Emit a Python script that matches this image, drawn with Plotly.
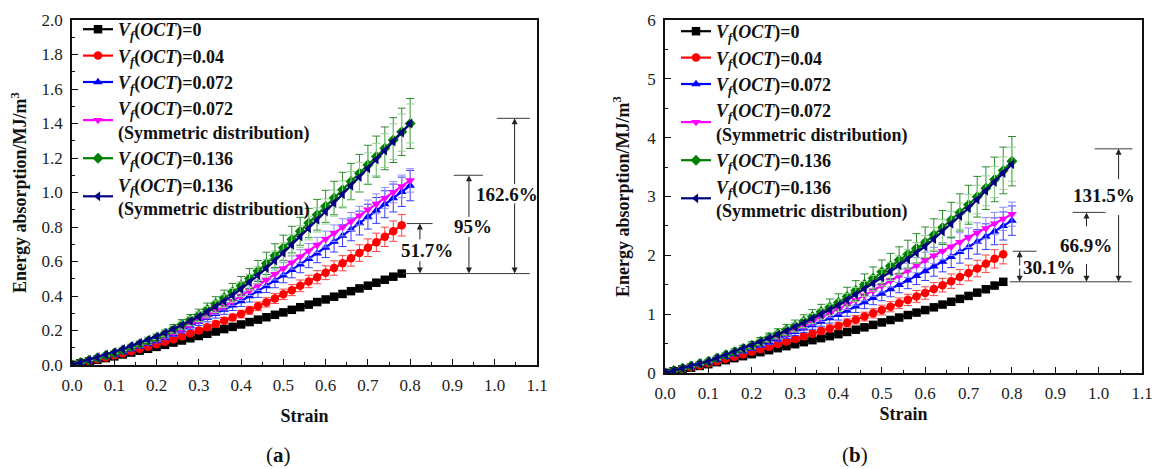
import plotly.graph_objects as go

# ---------------------------------------------------------------------------
# Energy absorption vs. strain for foams with different OCT volume fractions
# (a) and (b): two loading cases, six specimen groups each (mean +/- SD)
# ---------------------------------------------------------------------------

STRAIN_078 = [0.00, 0.02, 0.04, 0.06, 0.08, 0.10, 0.12, 0.14, 0.16, 0.18,
              0.20, 0.22, 0.24, 0.26, 0.28, 0.30, 0.32, 0.34, 0.36, 0.38,
              0.40, 0.42, 0.44, 0.46, 0.48, 0.50, 0.52, 0.54, 0.56, 0.58,
              0.60, 0.62, 0.64, 0.66, 0.68, 0.70, 0.72, 0.74, 0.76, 0.78]
STRAIN_080 = STRAIN_078 + [0.80]

SERIES_NAMES = [
    "<i>V</i><sub><i>f</i></sub>(<i>OCT</i>)=0",
    "<i>V</i><sub><i>f</i></sub>(<i>OCT</i>)=0.04",
    "<i>V</i><sub><i>f</i></sub>(<i>OCT</i>)=0.072",
    "<i>V</i><sub><i>f</i></sub>(<i>OCT</i>)=0.072<br>(Symmetric distribution)",
    "<i>V</i><sub><i>f</i></sub>(<i>OCT</i>)=0.136",
    "<i>V</i><sub><i>f</i></sub>(<i>OCT</i>)=0.136<br>(Symmetric distribution)",
]

# ---- panel (a) -----------------------------------------------------------
A_BLACK = [0.000, 0.010, 0.020, 0.030, 0.040, 0.050, 0.061, 0.072, 0.083, 0.094,
           0.105, 0.117, 0.130, 0.142, 0.155, 0.168, 0.181, 0.194, 0.208, 0.221,
           0.235, 0.249, 0.263, 0.277, 0.291, 0.305, 0.320, 0.335, 0.350, 0.365,
           0.380, 0.396, 0.412, 0.428, 0.444, 0.460, 0.477, 0.494, 0.512, 0.530]
A_BLACK_ERR = [0.000, 0.001, 0.001, 0.002, 0.002, 0.003, 0.003, 0.003, 0.004, 0.004,
               0.004, 0.005, 0.005, 0.005, 0.006, 0.006, 0.006, 0.007, 0.007, 0.007,
               0.008, 0.008, 0.008, 0.009, 0.009, 0.009, 0.010, 0.010, 0.010, 0.011,
               0.011, 0.011, 0.012, 0.012, 0.012, 0.013, 0.013, 0.013, 0.014, 0.014]

A_RED = [0.000, 0.011, 0.022, 0.033, 0.044, 0.055, 0.067, 0.080, 0.093, 0.106,
         0.120, 0.135, 0.150, 0.166, 0.183, 0.200, 0.219, 0.238, 0.257, 0.276,
         0.295, 0.317, 0.340, 0.363, 0.386, 0.410, 0.434, 0.459, 0.484, 0.509,
         0.535, 0.562, 0.590, 0.619, 0.649, 0.680, 0.711, 0.743, 0.776, 0.810]
A_RED_ERR = [0.000, 0.001, 0.002, 0.003, 0.004, 0.004, 0.005, 0.006, 0.007, 0.008,
             0.009, 0.010, 0.011, 0.012, 0.013, 0.015, 0.016, 0.017, 0.019, 0.020,
             0.022, 0.023, 0.025, 0.027, 0.029, 0.030, 0.032, 0.034, 0.036, 0.038,
             0.040, 0.042, 0.044, 0.046, 0.048, 0.051, 0.053, 0.056, 0.059, 0.062]

A_BLUE = [0.000, 0.012, 0.024, 0.036, 0.048, 0.060, 0.075, 0.090, 0.106, 0.123,
          0.140, 0.160, 0.181, 0.203, 0.226, 0.250, 0.273, 0.297, 0.321, 0.345,
          0.370, 0.399, 0.428, 0.458, 0.489, 0.520, 0.551, 0.583, 0.615, 0.647,
          0.680, 0.715, 0.750, 0.786, 0.823, 0.860, 0.896, 0.932, 0.968, 1.004,
          1.040]
A_BLUE_ERR = [0.000, 0.001, 0.002, 0.003, 0.004, 0.005, 0.006, 0.007, 0.008, 0.010,
              0.011, 0.013, 0.015, 0.017, 0.019, 0.021, 0.023, 0.025, 0.027, 0.029,
              0.031, 0.034, 0.036, 0.038, 0.041, 0.043, 0.046, 0.048, 0.051, 0.054,
              0.057, 0.060, 0.063, 0.066, 0.069, 0.072, 0.075, 0.078, 0.081, 0.085,
              0.088]

A_MAGENTA = [0.000, 0.012, 0.024, 0.037, 0.049, 0.062, 0.077, 0.093, 0.110, 0.127,
             0.145, 0.166, 0.188, 0.211, 0.235, 0.260, 0.286, 0.313, 0.341, 0.370,
             0.400, 0.431, 0.462, 0.494, 0.527, 0.560, 0.594, 0.628, 0.662, 0.696,
             0.730, 0.764, 0.798, 0.832, 0.866, 0.900, 0.934, 0.968, 1.002, 1.036,
             1.070]
A_MAGENTA_ERR = [0.000, 0.001, 0.002, 0.003, 0.003, 0.004, 0.005, 0.006, 0.007, 0.008,
                 0.009, 0.010, 0.012, 0.013, 0.015, 0.016, 0.018, 0.020, 0.022, 0.024,
                 0.026, 0.028, 0.030, 0.032, 0.034, 0.036, 0.038, 0.040, 0.042, 0.044,
                 0.046, 0.048, 0.050, 0.052, 0.054, 0.056, 0.058, 0.060, 0.062, 0.065,
                 0.068]

A_GREEN = [0.000, 0.014, 0.028, 0.042, 0.056, 0.070, 0.087, 0.104, 0.122, 0.141,
           0.160, 0.184, 0.209, 0.235, 0.262, 0.290, 0.322, 0.355, 0.389, 0.424,
           0.460, 0.502, 0.545, 0.589, 0.634, 0.680, 0.727, 0.775, 0.823, 0.871,
           0.920, 0.968, 1.016, 1.064, 1.112, 1.160, 1.208, 1.256, 1.304, 1.352,
           1.400]
A_GREEN_ERR = [0.000, 0.002, 0.004, 0.006, 0.007, 0.009, 0.011, 0.013, 0.015, 0.017,
               0.019, 0.022, 0.025, 0.028, 0.031, 0.034, 0.037, 0.041, 0.045, 0.049,
               0.053, 0.057, 0.061, 0.065, 0.069, 0.073, 0.077, 0.081, 0.085, 0.089,
               0.093, 0.097, 0.101, 0.105, 0.109, 0.114, 0.119, 0.124, 0.130, 0.137,
               0.145]

A_NAVY = [0.000, 0.015, 0.030, 0.045, 0.060, 0.075, 0.093, 0.111, 0.129, 0.147,
          0.165, 0.186, 0.208, 0.231, 0.255, 0.280, 0.308, 0.338, 0.370, 0.404,
          0.440, 0.480, 0.520, 0.561, 0.605, 0.650, 0.697, 0.744, 0.792, 0.841,
          0.890, 0.939, 0.989, 1.039, 1.089, 1.140, 1.191, 1.243, 1.295, 1.347,
          1.400]
A_NAVY_ERR = [0.000, 0.002, 0.003, 0.005, 0.006, 0.008, 0.009, 0.011, 0.013, 0.015,
              0.017, 0.019, 0.021, 0.023, 0.026, 0.028, 0.031, 0.034, 0.037, 0.040,
              0.043, 0.046, 0.049, 0.052, 0.055, 0.058, 0.061, 0.064, 0.067, 0.070,
              0.073, 0.076, 0.079, 0.082, 0.086, 0.090, 0.094, 0.098, 0.103, 0.108,
              0.113]

# ---- panel (b) -----------------------------------------------------------
B_BLACK = [0.000, 0.030, 0.060, 0.090, 0.120, 0.150, 0.184, 0.218, 0.252, 0.286,
           0.320, 0.354, 0.388, 0.422, 0.456, 0.490, 0.524, 0.558, 0.592, 0.626,
           0.660, 0.698, 0.736, 0.776, 0.818, 0.860, 0.901, 0.943, 0.985, 1.027,
           1.070, 1.116, 1.163, 1.211, 1.260, 1.310, 1.366, 1.424, 1.486, 1.550]
B_BLACK_ERR = [0.000, 0.003, 0.004, 0.006, 0.007, 0.009, 0.010, 0.011, 0.012, 0.013,
               0.014, 0.015, 0.016, 0.017, 0.018, 0.019, 0.020, 0.021, 0.022, 0.023,
               0.024, 0.025, 0.026, 0.027, 0.028, 0.029, 0.030, 0.031, 0.032, 0.033,
               0.034, 0.035, 0.036, 0.037, 0.038, 0.039, 0.040, 0.041, 0.042, 0.043]

B_RED = [0.000, 0.032, 0.064, 0.096, 0.128, 0.160, 0.198, 0.238, 0.278, 0.319,
         0.360, 0.403, 0.447, 0.491, 0.535, 0.580, 0.624, 0.668, 0.712, 0.756,
         0.800, 0.852, 0.905, 0.959, 1.014, 1.070, 1.127, 1.185, 1.243, 1.302,
         1.360, 1.426, 1.493, 1.561, 1.630, 1.700, 1.776, 1.857, 1.940, 2.020]
B_RED_ERR = [0.000, 0.003, 0.006, 0.009, 0.012, 0.014, 0.017, 0.020, 0.023, 0.026,
             0.029, 0.032, 0.035, 0.038, 0.041, 0.045, 0.048, 0.052, 0.055, 0.059,
             0.063, 0.067, 0.071, 0.075, 0.079, 0.083, 0.087, 0.091, 0.096, 0.101,
             0.106, 0.111, 0.116, 0.122, 0.128, 0.134, 0.141, 0.148, 0.156, 0.165]

B_BLUE = [0.000, 0.036, 0.072, 0.108, 0.144, 0.180, 0.226, 0.273, 0.321, 0.370,
          0.420, 0.474, 0.529, 0.584, 0.642, 0.700, 0.757, 0.815, 0.873, 0.931,
          0.990, 1.060, 1.131, 1.203, 1.276, 1.350, 1.425, 1.500, 1.576, 1.653,
          1.730, 1.811, 1.893, 1.975, 2.057, 2.140, 2.229, 2.318, 2.408, 2.499,
          2.590]
B_BLUE_ERR = [0.000, 0.004, 0.007, 0.011, 0.014, 0.018, 0.021, 0.025, 0.029, 0.033,
              0.037, 0.041, 0.046, 0.051, 0.056, 0.061, 0.066, 0.072, 0.078, 0.084,
              0.090, 0.096, 0.102, 0.108, 0.115, 0.122, 0.129, 0.136, 0.143, 0.150,
              0.158, 0.166, 0.174, 0.182, 0.190, 0.199, 0.208, 0.218, 0.228, 0.239,
              0.250]

B_MAGENTA = [0.000, 0.038, 0.076, 0.114, 0.152, 0.190, 0.239, 0.289, 0.339, 0.389,
             0.440, 0.499, 0.559, 0.619, 0.679, 0.740, 0.807, 0.875, 0.943, 1.011,
             1.080, 1.159, 1.239, 1.319, 1.399, 1.480, 1.568, 1.656, 1.744, 1.832,
             1.920, 1.996, 2.072, 2.148, 2.224, 2.300, 2.380, 2.460, 2.540, 2.620,
             2.700]
B_MAGENTA_ERR = [0.000, 0.003, 0.006, 0.009, 0.012, 0.015, 0.018, 0.021, 0.024, 0.028,
                 0.032, 0.036, 0.040, 0.044, 0.048, 0.052, 0.056, 0.061, 0.066, 0.071,
                 0.076, 0.081, 0.086, 0.091, 0.097, 0.103, 0.109, 0.115, 0.121, 0.127,
                 0.133, 0.139, 0.145, 0.152, 0.159, 0.166, 0.173, 0.181, 0.189, 0.197,
                 0.205]

B_GREEN = [0.000, 0.040, 0.080, 0.120, 0.160, 0.200, 0.254, 0.308, 0.362, 0.416,
           0.470, 0.536, 0.602, 0.668, 0.734, 0.800, 0.880, 0.960, 1.040, 1.120,
           1.200, 1.300, 1.402, 1.506, 1.612, 1.720, 1.820, 1.920, 2.020, 2.120,
           2.220, 2.346, 2.473, 2.600, 2.729, 2.860, 2.996, 3.142, 3.290, 3.443,
           3.600]
B_GREEN_ERR = [0.000, 0.006, 0.012, 0.018, 0.023, 0.029, 0.035, 0.041, 0.047, 0.054,
               0.061, 0.068, 0.076, 0.084, 0.092, 0.100, 0.109, 0.118, 0.127, 0.137,
               0.147, 0.157, 0.168, 0.179, 0.190, 0.201, 0.213, 0.225, 0.237, 0.249,
               0.262, 0.275, 0.288, 0.302, 0.316, 0.331, 0.346, 0.362, 0.379, 0.397,
               0.420]

B_NAVY = [0.000, 0.040, 0.080, 0.120, 0.160, 0.200, 0.254, 0.308, 0.362, 0.416,
          0.470, 0.530, 0.591, 0.653, 0.716, 0.780, 0.852, 0.925, 0.999, 1.074,
          1.150, 1.241, 1.334, 1.428, 1.524, 1.620, 1.724, 1.829, 1.935, 2.042,
          2.150, 2.277, 2.405, 2.535, 2.667, 2.800, 2.948, 3.097, 3.247, 3.398,
          3.550]
B_NAVY_ERR = [0.000, 0.004, 0.008, 0.012, 0.016, 0.020, 0.024, 0.028, 0.033, 0.038,
              0.043, 0.048, 0.054, 0.060, 0.066, 0.072, 0.078, 0.085, 0.092, 0.099,
              0.106, 0.113, 0.120, 0.128, 0.136, 0.144, 0.152, 0.160, 0.168, 0.177,
              0.186, 0.195, 0.204, 0.213, 0.223, 0.233, 0.243, 0.254, 0.265, 0.277,
              0.290]

# ---- percentage brackets:
# (label, top level, arrow x, top-line x span, label position, arrow tails)
A_BRACKETS = [
    ("51.7%", 0.82, 0.823, (0.792, 0.853), (0.839, 0.665), (0.72, 0.61)),
    ("95%", 1.10, 0.939, (0.903, 0.972), (0.948, 0.80), (0.85, 0.75)),
    ("162.6%", 1.43, 1.047, (1.005, 1.083), (1.028, 0.99), (1.04, 0.945)),
]
A_BASE_SPAN = (0.782, 1.083)

B_BRACKETS = [
    ("30.1%", 2.07, 0.818, (0.802, 0.857), (0.885, 1.80), (1.80, 1.80)),
    ("66.9%", 2.73, 0.972, (0.940, 1.016), (0.972, 2.17), (2.47, 1.88)),
    ("131.5%", 3.81, 1.046, (0.991, 1.078), (1.012, 3.02), (3.27, 2.71)),
]
B_BASE_SPAN = (0.795, 1.076)

# ---- styling --------------------------------------------------------------
SERIF = "Liberation Serif"
LINE_COLORS = ["#000000", "#ff0000", "#0000ff", "#ff00ff", "#008000", "#000080"]
ERR_COLORS = ["#000000", "#ff4040", "#3a3aff", "#8c8cff", "#2e8b2e", "#8fd18f"]
SYMBOLS = ["square", "circle", "triangle-up", "triangle-down", "diamond", "triangle-left"]

W, H = 1158, 469

fig = go.Figure()


def add_panel(series, xaxis, yaxis, legend):
    for i, (xs, ys, es) in enumerate(series):
        fig.add_trace(go.Scatter(
            x=xs, y=ys, name=SERIES_NAMES[i], mode="lines+markers",
            xaxis=xaxis, yaxis=yaxis, legend=legend,
            line=dict(color=LINE_COLORS[i], width=2.2),
            marker=dict(symbol=SYMBOLS[i], size=8.5, color=LINE_COLORS[i]),
            error_y=dict(type="data", array=es, visible=True,
                         color=ERR_COLORS[i], thickness=1, width=4),
        ))


add_panel([
    (STRAIN_078, A_BLACK, A_BLACK_ERR),
    (STRAIN_078, A_RED, A_RED_ERR),
    (STRAIN_080, A_BLUE, A_BLUE_ERR),
    (STRAIN_080, A_MAGENTA, A_MAGENTA_ERR),
    (STRAIN_080, A_GREEN, A_GREEN_ERR),
    (STRAIN_080, A_NAVY, A_NAVY_ERR),
], "x", "y", "legend")

add_panel([
    (STRAIN_078, B_BLACK, B_BLACK_ERR),
    (STRAIN_078, B_RED, B_RED_ERR),
    (STRAIN_080, B_BLUE, B_BLUE_ERR),
    (STRAIN_080, B_MAGENTA, B_MAGENTA_ERR),
    (STRAIN_080, B_GREEN, B_GREEN_ERR),
    (STRAIN_080, B_NAVY, B_NAVY_ERR),
], "x2", "y2", "legend2")


def brackets(base, base_span, items, xref, yref, fsize):
    line_style = dict(color="#3a3a3a", width=1)
    fig.add_shape(type="line", xref=xref, yref=yref, x0=base_span[0], x1=base_span[1],
                  y0=base, y1=base, line=line_style)
    for label, top, ax_x, span, (tx, ty), (up_from, down_from) in items:
        fig.add_shape(type="line", xref=xref, yref=yref, x0=span[0], x1=span[1],
                      y0=top, y1=top, line=line_style)
        for tip, tail in ((top, up_from), (base, down_from)):
            fig.add_annotation(x=ax_x, y=tip, ax=ax_x, ay=tail, xref=xref, yref=yref,
                               axref=xref, ayref=yref, text="", showarrow=True,
                               arrowhead=2, arrowsize=1.2, arrowwidth=1,
                               arrowcolor="#222")
        fig.add_annotation(x=tx, y=ty, xref=xref, yref=yref, text=f"<b>{label}</b>",
                           showarrow=False, xanchor="center", yanchor="middle",
                           font=dict(family=SERIF, size=fsize, color="#111"))


brackets(A_BLACK[-1], A_BASE_SPAN, A_BRACKETS, "x", "y", 19)
brackets(B_BLACK[-1], B_BASE_SPAN, B_BRACKETS, "x2", "y2", 19)

axis_common = dict(
    showline=True, linecolor="#111", linewidth=1.5, mirror=True,
    ticks="inside", ticklen=6, tickwidth=1.2, tickcolor="#111",
    showgrid=False, zeroline=False, automargin=False,
    tickfont=dict(family=SERIF, size=17, color="#222"),
)
title_font = dict(family=SERIF, size=18, color="#111")


def px_x(p):
    return p / W


def px_y(p):
    return 1 - p / H


fig.update_layout(
    width=W, height=H,
    margin=dict(l=0, r=0, t=0, b=0),
    paper_bgcolor="white", plot_bgcolor="white",
    showlegend=True,
    xaxis=dict(axis_common, domain=[px_x(72), px_x(537)], range=[0, 1.1], dtick=0.1,
               tick0=0, tickformat=".1f", ticklabelstandoff=4,
               minor=dict(ticks="inside", ticklen=3, dtick=0.05, tickcolor="#111"),
               title=dict(text="<b>Strain</b>", standoff=15, font=title_font),
               anchor="y"),
    yaxis=dict(axis_common, domain=[px_y(365), px_y(20)], range=[0, 2.0], dtick=0.2,
               tick0=0, tickformat=".1f", ticklabelstandoff=4,
               minor=dict(ticks="inside", ticklen=3, dtick=0.1, tickcolor="#111"),
               title=dict(text="<b>Energy absorption/MJ/m<sup>3</sup></b>", standoff=10,
                          font=title_font),
               anchor="x"),
    xaxis2=dict(axis_common, domain=[px_x(665), px_x(1142)], range=[0, 1.1], dtick=0.1,
                tick0=0, tickformat=".1f", ticklabelstandoff=4,
                minor=dict(ticks="inside", ticklen=3, dtick=0.05, tickcolor="#111"),
                title=dict(text="<b>Strain</b>", standoff=5, font=title_font),
                anchor="y2"),
    yaxis2=dict(axis_common, domain=[px_y(373), px_y(20)], range=[0, 6], dtick=1,
                tick0=0, ticklabelstandoff=4,
                minor=dict(ticks="inside", ticklen=3, dtick=0.5, tickcolor="#111"),
                title=dict(text="<b>Energy absorption/MJ/m<sup>3</sup></b>", standoff=13,
                           font=title_font),
                anchor="x2"),
    legend=dict(x=px_x(78), y=px_y(11), xanchor="left", yanchor="top",
                bgcolor="rgba(0,0,0,0)", borderwidth=0,
                font=dict(family=SERIF, size=18, color="#111", weight="bold")),
    legend2=dict(x=px_x(676), y=px_y(13), xanchor="left", yanchor="top",
                 bgcolor="rgba(0,0,0,0)", borderwidth=0,
                 font=dict(family=SERIF, size=18, color="#111", weight="bold")),
)

fig.add_annotation(x=px_x(278), y=px_y(455), xref="paper", yref="paper", text="(<b>a</b>)",
                   showarrow=False, xanchor="center", yanchor="middle",
                   font=dict(family=SERIF, size=21, color="#111"))
fig.add_annotation(x=px_x(855), y=px_y(455), xref="paper", yref="paper", text="(<b>b</b>)",
                   showarrow=False, xanchor="center", yanchor="middle",
                   font=dict(family=SERIF, size=21, color="#111"))

fig.write_html("out.html")
